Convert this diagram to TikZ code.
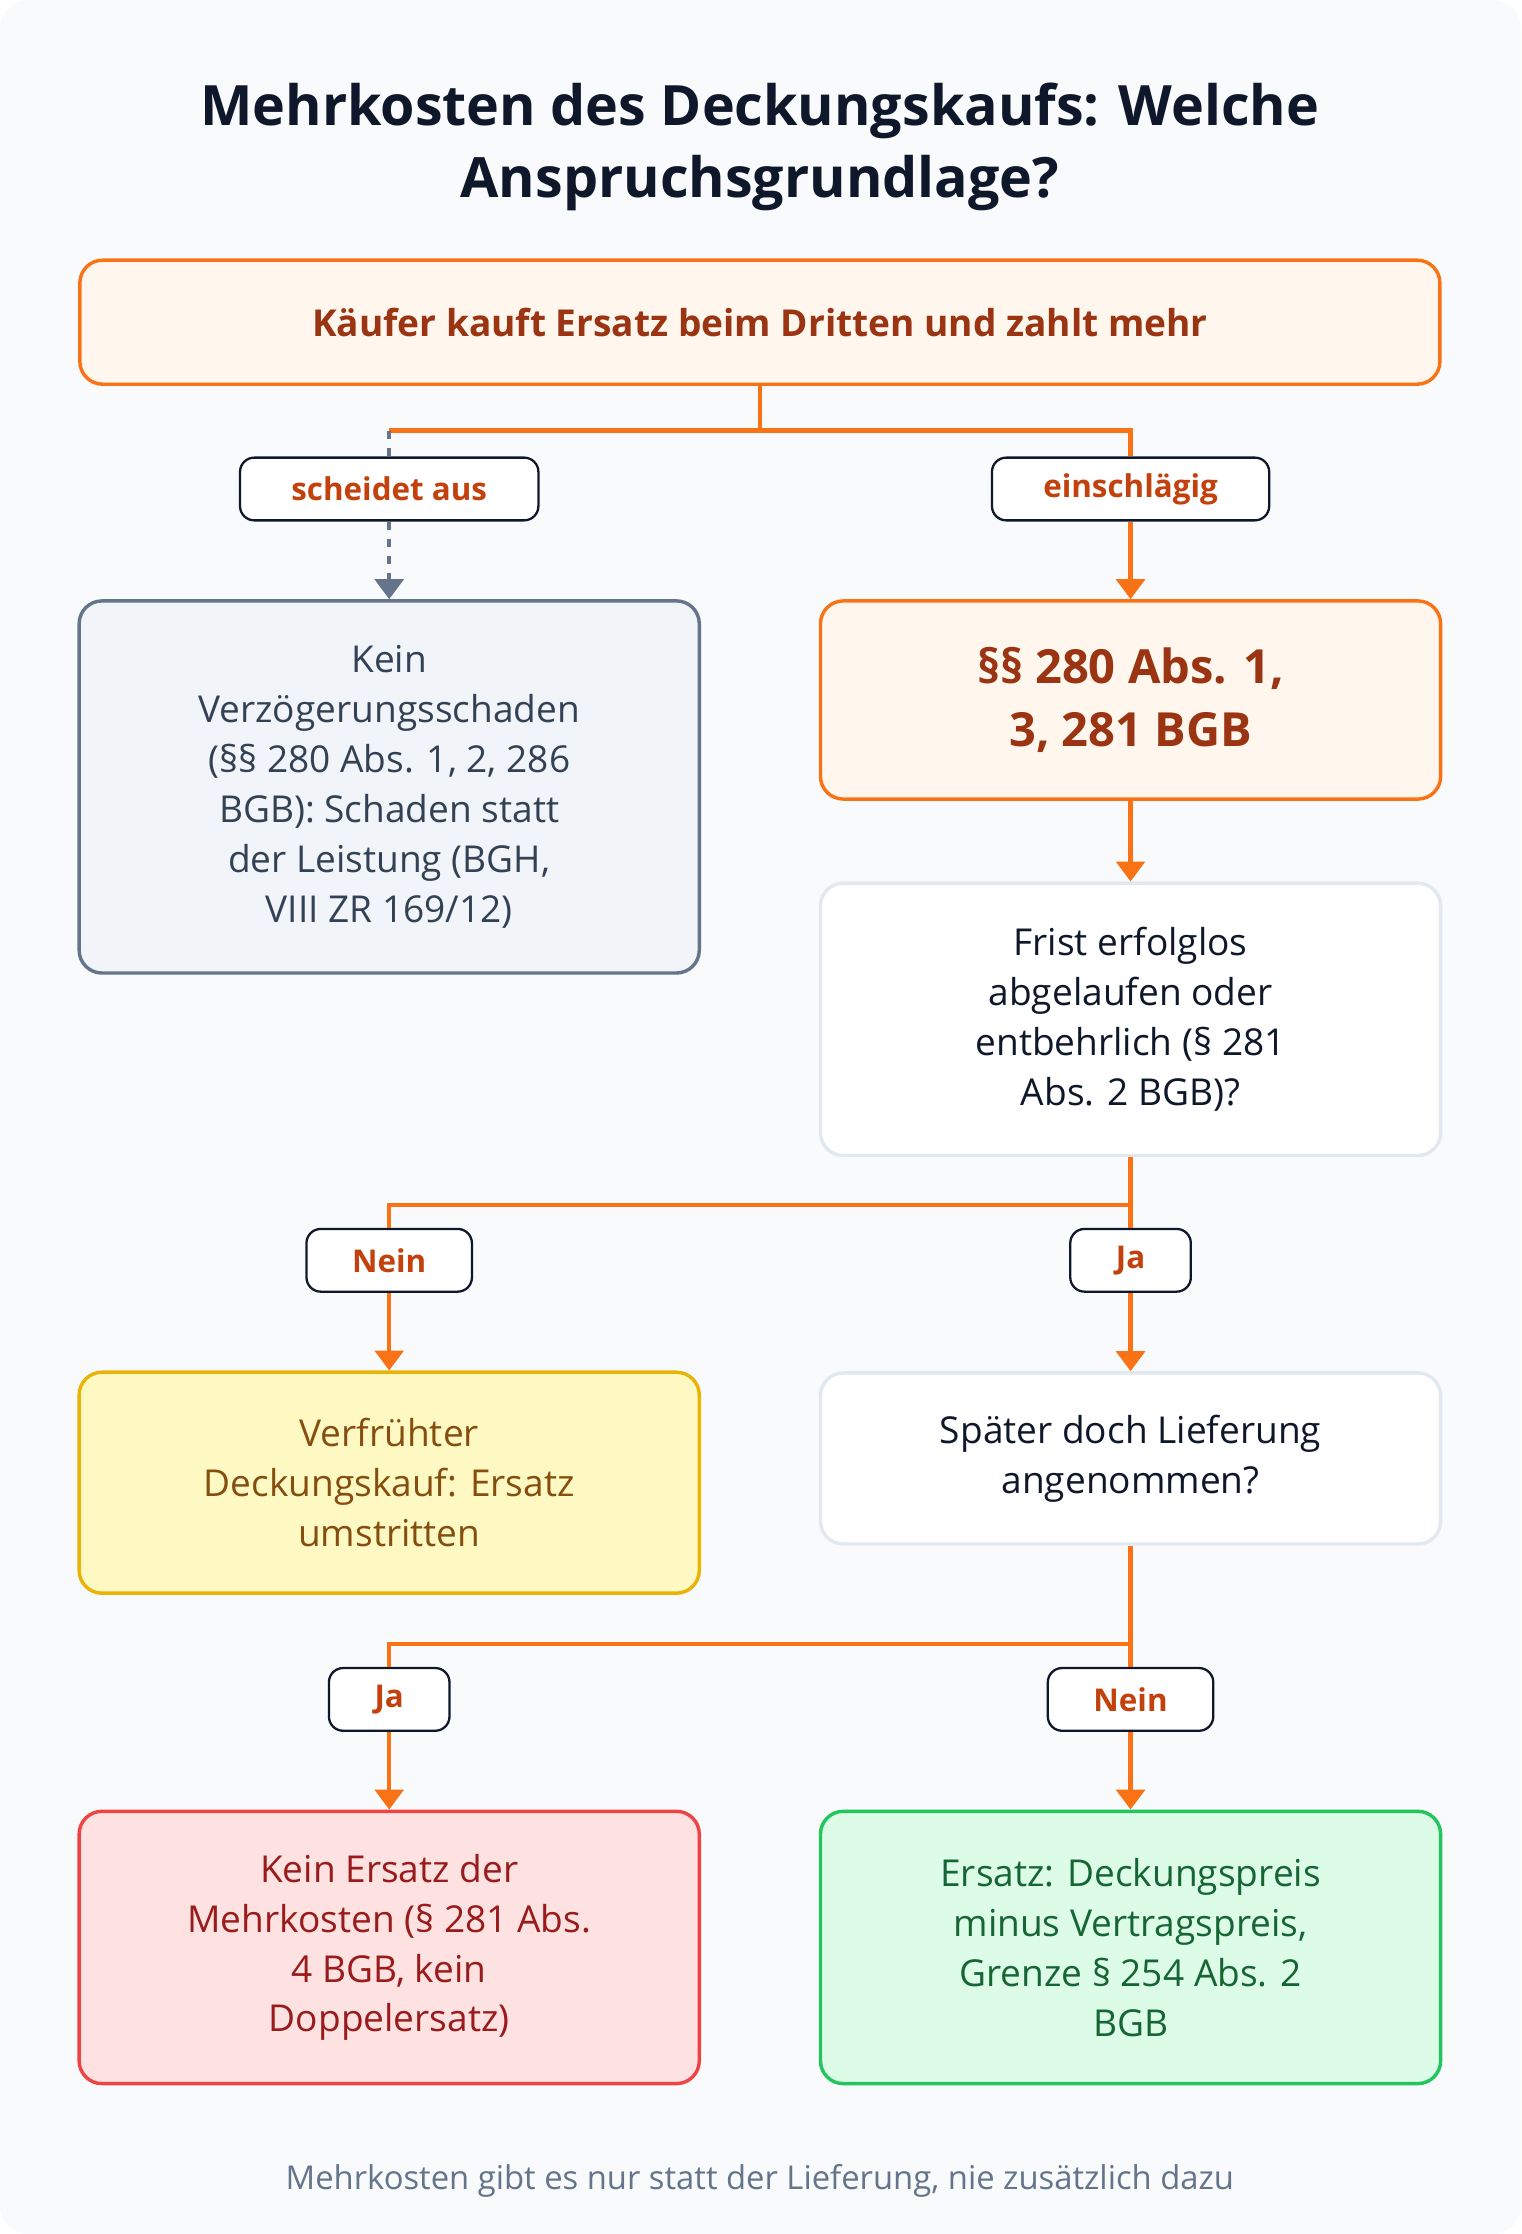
\documentclass[tikz,border=0pt]{standalone}
\usepackage{fontspec}
\setmainfont{Open Sans}
\usetikzlibrary{arrows.meta,positioning}
\definecolor{bgc}{HTML}{F8FAFC}
\definecolor{ink}{HTML}{0F172A}
\definecolor{orln}{HTML}{F97316}
\definecolor{orfl}{HTML}{FFF7ED}
\definecolor{ortx}{HTML}{C2410C}
\definecolor{ordk}{HTML}{9A3412}
\definecolor{slln}{HTML}{64748B}
\definecolor{slfl}{HTML}{F1F5F9}
\definecolor{sltx}{HTML}{334155}
\definecolor{wtln}{HTML}{E2E8F0}
\definecolor{yeln}{HTML}{EAB308}
\definecolor{yefl}{HTML}{FEF9C3}
\definecolor{yetx}{HTML}{854D0E}
\definecolor{rdln}{HTML}{EF4444}
\definecolor{rdfl}{HTML}{FEE2E2}
\definecolor{rdtx}{HTML}{991B1B}
\definecolor{grln}{HTML}{22C55E}
\definecolor{grfl}{HTML}{DCFCE7}
\definecolor{grtx}{HTML}{166534}
\tikzset{
  box/.style={draw, rounded corners=8pt, line width=1.2pt, minimum width=217.5pt, align=center, font=\fontsize{13}{17.5}\selectfont},
  lbl/.style={draw=ink, fill=white, rounded corners=5pt, line width=0.8pt, minimum height=22pt, inner xsep=16pt, text=ortx, font=\bfseries\fontsize{11}{13}\selectfont},
  link/.style={draw=orln, line width=1.5pt},
  arr/.style={link, -{Triangle[length=7pt,width=10pt]}},
}
\begin{document}
\begin{tikzpicture}[x=0.5pt,y=-0.5pt]
\useasboundingbox (0,0) rectangle (1067,1567);
\fill[bgc, rounded corners=10pt] (0,0) rectangle (1067,1567);

\node[font=\bfseries\fontsize{19.5}{25}\selectfont, text=ink, align=center] (title) at (533,103)
  {Mehrkosten des Deckungskaufs: Welche\\Anspruchsgrundlage?};

% Ebene 1
\node[box, minimum width=477pt, minimum height=43.5pt, draw=orln, fill=orfl, text=ordk, font=\bfseries\fontsize{13}{17}\selectfont] (start) at (533,226)
  {Käufer kauft Ersatz beim Dritten und zahlt mehr};
\coordinate (b1) at (533,302);
\node[lbl, inner xsep=18pt] (aus) at (273,343) {scheidet aus};
\node[lbl, inner xsep=18pt] (ein) at (793,343) {einschlägig};

\node[box, minimum height=130.5pt, draw=slln, fill=slfl, text=sltx] (kein) at (273,552)
  {Kein\\Verzögerungsschaden\\(§§ 280 Abs. 1, 2, 286\\BGB): Schaden statt\\der Leistung (BGH,\\VIII ZR 169/12)};
\node[box, minimum height=69.5pt, draw=orln, fill=orfl, text=ordk, font=\bfseries\fontsize{16.5}{22}\selectfont] (norm) at (793,491)
  {§§ 280 Abs. 1,\\3, 281 BGB};

\draw[link] (start.south) -- (b1);
\draw[link] (b1) -| (ein.north);
\draw[link] (b1) -- (b1 -| aus.north) coordinate (b1l);
\draw[slln, line width=1.5pt, dashed] (b1l) -- (aus.north);
\draw[slln, line width=1.5pt, dashed, -{Triangle[length=7pt,width=10pt]}] (aus.south) -- (kein.north);
\draw[arr] (ein.south) -- (norm.north);

% Frist
\node[box, minimum height=95.5pt, draw=wtln, fill=white, text=ink] (frist) at (793,715)
  {Frist erfolglos\\abgelaufen oder\\entbehrlich (§ 281\\Abs. 2 BGB)?};
\draw[arr] (norm.south) -- (frist.north);

\coordinate (b2) at (793,845);
\node[lbl] (nein1) at (273,884) {Nein};
\node[lbl] (ja1) at (793,884) {Ja};
\node[box, minimum height=77.5pt, draw=yeln, fill=yefl, text=yetx] (frueh) at (273,1040)
  {Verfrühter\\Deckungskauf: Ersatz\\umstritten};
\node[box, minimum height=60pt, draw=wtln, fill=white, text=ink] (spaet) at (793,1023)
  {Später doch Lieferung\\angenommen?};
\draw[link] (frist.south) -- (b2);
\draw[link] (b2) -| (nein1.north);
\draw[link] (b2) -- (ja1.north);
\draw[arr] (nein1.south) -- (frueh.north);
\draw[arr] (ja1.south) -- (spaet.north);

% Ergebnis
\coordinate (b3) at (793,1153);
\node[lbl] (ja2) at (273,1192) {Ja};
\node[lbl] (nein2) at (793,1192) {Nein};
\node[box, minimum height=95.5pt, draw=rdln, fill=rdfl, text=rdtx] (ohne) at (273,1366)
  {Kein Ersatz der\\Mehrkosten (§ 281 Abs.\\4 BGB, kein\\Doppelersatz)};
\node[box, minimum height=95.5pt, draw=grln, fill=grfl, text=grtx] (mit) at (793,1366)
  {Ersatz: Deckungspreis\\minus Vertragspreis,\\Grenze § 254 Abs. 2\\BGB};
\draw[link] (spaet.south) -- (b3);
\draw[link] (b3) -| (ja2.north);
\draw[link] (b3) -- (nein2.north);
\draw[arr] (ja2.south) -- (ohne.north);
\draw[arr] (nein2.south) -- (mit.north);

\node[text=slln, font=\fontsize{11.5}{13}\selectfont] (fuss) at (533,1530)
  {Mehrkosten gibt es nur statt der Lieferung, nie zusätzlich dazu};
\end{tikzpicture}
\end{document}
